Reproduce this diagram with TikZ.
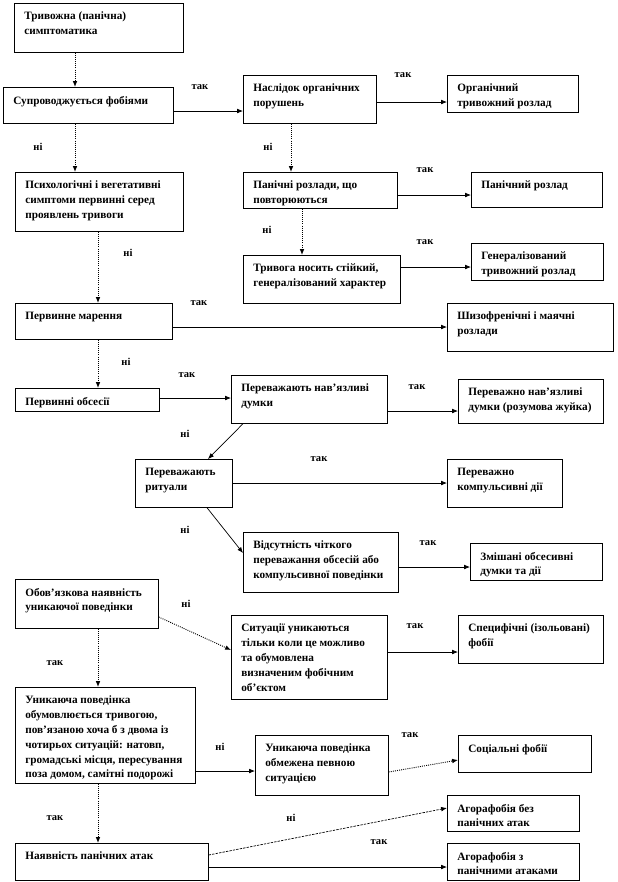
\documentclass[tikz,border=0pt]{standalone}
\usepackage{fontspec}
\setmainfont{Liberation Serif}
\usetikzlibrary{arrows.meta}

% one unit of the picture = one pixel of the layout
\newlength{\pxunit}
\setlength{\pxunit}{0.03cm}
\newcommand{\boxtext}[3]{%
  \parbox[b][#2\pxunit][t]{#1\pxunit}{\raggedright\leftskip=8.5pt\vspace*{7.5pt}#3\par}}

\begin{document}
\begin{tikzpicture}[
    x=0.03cm, y=-0.03cm,
    font=\bfseries\fontsize{9.6}{12.6}\selectfont,
    diag_box/.style={
        draw=black, line width=0.6pt,
        inner sep=0pt, anchor=north west
    },
    answer/.style={
        inner sep=0pt,
        font=\bfseries\fontsize{9}{10}\selectfont
    },
    solid_line/.style={
        -{Latex[length=5pt,width=4pt]}, line width=0.6pt
    },
    dotted_line/.style={
        -{Latex[length=5pt,width=4pt]}, line width=0.8pt,
        densely dotted
    },
    dashed_line/.style={
        -{Latex[length=5pt,width=4pt]}, line width=0.6pt,
        dash pattern=on 2pt off 1pt
    }
]

\path[use as bounding box, fill=white] (0,0) rectangle (618,882);

%% ── Boxes ──────────────────────────────
\node[diag_box] (b1)  at (14,3)    {\boxtext{169}{49}{Тривожна (панічна)\\симптоматика}};
\node[diag_box] (b2)  at (3,87)    {\boxtext{170}{36}{Супроводжується фобіями}};
\node[diag_box] (b3)  at (243,75)  {\boxtext{133}{48}{Наслідок органічних\\порушень}};
\node[diag_box] (b4)  at (447,75)  {\boxtext{131}{37}{Органічний\\тривожний розлад}};
\node[diag_box] (b5)  at (15,172)  {\boxtext{168}{59}{Психологічні і вегетативні\\симптоми  первинні серед\\проявлень тривоги}};
\node[diag_box] (b6)  at (243,172) {\boxtext{154}{36}{Панічні розлади, що\\повторюються}};
\node[diag_box] (b7)  at (471,172) {\boxtext{131}{35}{Панічний розлад}};
\node[diag_box] (b8)  at (243,255) {\boxtext{157}{48}{Тривога носить стійкий,\\генералізований характер}};
\node[diag_box] (b9)  at (471,243) {\boxtext{132}{37}{Генералізований\\тривожний розлад}};
\node[diag_box] (b10) at (15,303)  {\boxtext{157}{36}{Первинне марення}};
\node[diag_box] (b11) at (447,303) {\boxtext{166}{48}{Шизофренічні і маячні\\розлади}};
\node[diag_box] (b12) at (15,388)  {\boxtext{144}{23}{Первинні обсесії}};
\node[diag_box] (b13) at (231,375) {\boxtext{156}{48}{Переважають нав'язливі\\думки}};
\node[diag_box] (b14) at (458,379) {\boxtext{145}{44}{Переважно нав'язливі\\думки (розумова жуйка)}};
\node[diag_box] (b15) at (135,459) {\boxtext{97}{48}{Переважають\\ритуали}};
\node[diag_box] (b16) at (447,459) {\boxtext{115}{48}{Переважно\\компульсивні дії}};
\node[diag_box] (b17) at (243,532) {\boxtext{155}{60}{Відсутність чіткого\\переважання обсесій або\\компульсивної поведінки}};
\node[diag_box] (b18) at (470,543) {\boxtext{132}{37}{Змішані обсесивні\\думки та дії}};
\node[diag_box] (b19) at (15,579)  {\boxtext{143}{49}{Обов'язкова наявність\\уникаючої поведінки}};
\node[diag_box] (b20) at (231,615) {\boxtext{156}{84}{Ситуації уникаються\\тільки коли це можливо\\та обумовлена\\визначеним фобічним\\об'єктом}};
\node[diag_box] (b21) at (458,615) {\boxtext{145}{48}{Специфічні (ізольовані)\\фобії}};
\node[diag_box] (b22) at (15,687)  {\boxtext{180}{96}{Уникаюча поведінка\\обумовлюється тривогою,\\пов'язаною хоча б з двома із\\чотирьох ситуацій: натовп,\\громадські місця, пересування\\поза домом, самітні подорожі}};
\node[diag_box] (b23) at (255,735) {\boxtext{133}{60}{Уникаюча поведінка\\обмежена певною\\ситуацією}};
\node[diag_box] (b24) at (458,735) {\boxtext{133}{37}{Соціальні фобії}};
\node[diag_box] (b25) at (15,843)  {\boxtext{193}{37}{Наявність панічних атак}};
\node[diag_box] (b26) at (447,795) {\boxtext{132}{36}{Агорафобія без\\панічних атак}};
\node[diag_box] (b27) at (447,843) {\boxtext{132}{37}{Агорафобія з\\панічними атаками}};

%% ── Connectors ─────────────────────────
\draw[dotted_line] (b1.south -| 75,0)  -- (b2.north -| 75,0);
\draw[solid_line]  (b2.east |- 0,111)  -- (b3.west |- 0,111);
\draw[solid_line]  (b3.east |- 0,102)  -- (b4.west |- 0,102);
\draw[dotted_line] (b2.south -| 75,0)  -- (b5.north -| 75,0);
\draw[dotted_line] (b3.south -| 291,0) -- (b6.north -| 291,0);
\draw[solid_line]  (b6.east |- 0,195)  -- (b7.west |- 0,195);
\draw[dotted_line] (b6.south -| 302,0) -- (b8.north -| 302,0);
\draw[solid_line]  (b8.east |- 0,267)  -- (b9.west |- 0,267);
\draw[dotted_line] (b5.south -| 98,0)  -- (b10.north -| 98,0);
\draw[solid_line]  (b10.east |- 0,327) -- (b11.west |- 0,327);
\draw[dotted_line] (b10.south -| 98,0) -- (b12.north -| 98,0);
\draw[solid_line]  (b12.east |- 0,398) -- (b13.west |- 0,398);
\draw[solid_line]  (b13.east |- 0,411) -- (b14.west |- 0,411);
\draw[solid_line]  (b13.south -| 243,0) -- (b15.north -| 208,0);
\draw[solid_line]  (b15.east |- 0,483) -- (b16.west |- 0,483);
\draw[solid_line]  (b15.south -| 207,0) -- (b17.west |- 0,553);
\draw[solid_line]  (b17.east |- 0,567) -- (b18.west |- 0,567);
\draw[dotted_line] (b19.east |- 0,617) -- (b20.west |- 0,650);
\draw[solid_line]  (b20.east |- 0,652) -- (b21.west |- 0,652);
\draw[dotted_line] (b19.south -| 98,0) -- (b22.north -| 98,0);
\draw[solid_line]  (b22.east |- 0,771) -- (b23.west |- 0,771);
\draw[dotted_line] (b23.east |- 0,772) -- (b24.west |- 0,760);
\draw[dotted_line] (b22.south -| 98,0) -- (b25.north -| 98,0);
\draw[dashed_line] (b25.east |- 0,855) -- (b26.west |- 0,808);
\draw[solid_line]  (b25.east |- 0,867) -- (b27.west |- 0,867);

%% ── Answers ────────────────────────────
\node[answer] (a1)  at (200,87)  {так};
\node[answer] (a2)  at (403,75)  {так};
\node[answer] (a3)  at (38,147)  {ні};
\node[answer] (a4)  at (268,147) {ні};
\node[answer] (a5)  at (425,170) {так};
\node[answer] (a6)  at (267,230) {ні};
\node[answer] (a7)  at (425,242) {так};
\node[answer] (a8)  at (128,253) {ні};
\node[answer] (a9)  at (199,303) {так};
\node[answer] (a10) at (126,362) {ні};
\node[answer] (a11) at (187,375) {так};
\node[answer] (a12) at (417,387) {так};
\node[answer] (a13) at (185,434) {ні};
\node[answer] (a14) at (319,459) {так};
\node[answer] (a15) at (185,530) {ні};
\node[answer] (a16) at (428,543) {так};
\node[answer] (a17) at (186,604) {ні};
\node[answer] (a18) at (415,626) {так};
\node[answer] (a19) at (55,663)  {так};
\node[answer] (a20) at (220,747) {ні};
\node[answer] (a21) at (410,735) {так};
\node[answer] (a22) at (55,818)  {так};
\node[answer] (a23) at (291,818) {ні};
\node[answer] (a24) at (379,842) {так};

\end{tikzpicture}
\end{document}
